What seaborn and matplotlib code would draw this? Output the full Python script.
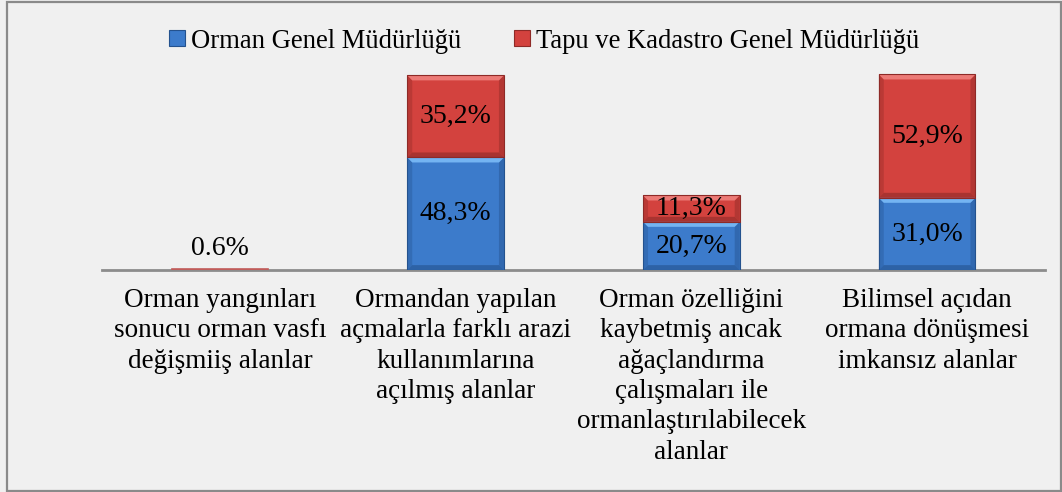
import matplotlib
matplotlib.use("Agg")
import matplotlib.pyplot as plt
import seaborn as sns
import pandas as pd
from matplotlib.patches import Polygon, Rectangle
from matplotlib.lines import Line2D

categories = [
    "Orman yangınları\nsonucu orman vasfı\ndeğişmiiş alanlar",
    "Ormandan yapılan\naçmalarla farklı arazi\nkullanımlarına\naçılmış alanlar",
    "Orman özelliğini\nkaybetmiş ancak\nağaçlandırma\nçalışmaları ile\normanlaştırılabilecek\nalanlar",
    "Bilimsel açıdan\normana dönüşmesi\nimkansız alanlar",
]
ogm_values = [0.0, 48.3, 20.7, 31.0]
tkgm_values = [0.6, 35.2, 11.3, 52.9]
ogm_labels = ["", "48,3%", "20,7%", "31,0%"]
tkgm_labels = ["0.6%", "35,2%", "11,3%", "52,9%"]
series_names = ["Orman Genel Müdürlüğü", "Tapu ve Kadastro Genel Müdürlüğü"]

BG = "#f0f0f0"
BLUE, BLUE_HI, BLUE_LO = "#3c7bcb", "#74b4f2", "#24528e"
RED, RED_HI, RED_LO = "#d3423e", "#ec7a76", "#8e2a27"

sns.set_theme(style="white")
plt.rcParams["font.family"] = ["Liberation Serif", "DejaVu Serif"]
plt.rcParams["text.color"] = "black"

df = pd.DataFrame({
    "category": categories,
    "ogm": ogm_values,
    "tkgm": tkgm_values,
})
df["total"] = df["ogm"] + df["tkgm"]

fig = plt.figure(figsize=(10.62, 4.92), dpi=100, facecolor=BG)
ax = fig.add_axes([0.096, 0.451, 0.888, 0.474])
ax.set_facecolor(BG)

# stacked bars: totals in red, lower segment in blue drawn over them
sns.barplot(data=df, x="category", y="total", color=RED, saturation=1,
            width=0.41, ax=ax, zorder=2, edgecolor="none")
sns.barplot(data=df, x="category", y="ogm", color=BLUE, saturation=1,
            width=0.41, ax=ax, zorder=3, edgecolor="none")

ax.set_ylim(0, 100)
ax.set_xlim(-0.5, len(categories) - 0.5)

# bevel shading on each segment
ppx = 943 / 4.0      # pixels per x unit
ppy = 233 / 100.0    # pixels per y unit
bw = 0.41
b = 5.0


def bevel(xc, y0, y1, base, hi, lo, z):
    x0, x1 = xc - bw / 2, xc + bw / 2
    if y1 - y0 < 3:
        ax.add_patch(Rectangle((x0, y0), bw, y1 - y0, facecolor="#c05c5a",
                               edgecolor="#c05c5a", linewidth=1.2, zorder=z))
        return
    dx, dy = b / ppx, b / ppy
    top = [(x0, y1), (x1, y1), (x1 - dx, y1 - dy), (x0 + dx, y1 - dy)]
    bot = [(x0, y0), (x1, y0), (x1 - dx, y0 + dy), (x0 + dx, y0 + dy)]
    left = [(x0, y0), (x0, y1), (x0 + dx, y1 - dy), (x0 + dx, y0 + dy)]
    right = [(x1, y0), (x1, y1), (x1 - dx, y1 - dy), (x1 - dx, y0 + dy)]
    ax.add_patch(Polygon(left, closed=True, facecolor=lo, edgecolor="none",
                         zorder=z, alpha=0.35))
    ax.add_patch(Polygon(right, closed=True, facecolor=lo, edgecolor="none",
                         zorder=z, alpha=0.45))
    ax.add_patch(Polygon(bot, closed=True, facecolor=lo, edgecolor="none",
                         zorder=z, alpha=0.6))
    ax.add_patch(Polygon(top, closed=True, facecolor=hi, edgecolor="none",
                         zorder=z))
    ax.add_patch(Rectangle((x0, y0), bw, y1 - y0, facecolor="none",
                           edgecolor=lo, linewidth=0.8, zorder=z + 0.1))


for i in range(len(categories)):
    o, t = ogm_values[i], tkgm_values[i]
    if o > 0:
        bevel(i, 0, o, BLUE, BLUE_HI, BLUE_LO, 4)
    if t > 0:
        bevel(i, o, o + t, RED, RED_HI, RED_LO, 4)

# value labels
for i in range(len(categories)):
    o, t = ogm_values[i], tkgm_values[i]
    if o > 0:
        ax.text(i, o / 2, ogm_labels[i], ha="center", va="center",
                fontsize=20, color="black", zorder=6)
        ax.text(i, o + t / 2, tkgm_labels[i], ha="center", va="center",
                fontsize=20, color="black", zorder=6)
    else:
        ax.text(i, o + t + 3.5, tkgm_labels[i], ha="center", va="bottom",
                fontsize=20, color="black", zorder=6)

ax.set_yticks([])
ax.set_xticks(range(len(categories)))
ax.set_xticklabels(categories, fontsize=19.5, linespacing=1.28, va="top",
                   color="black")
ax.tick_params(axis="x", length=0, pad=13)
ax.set_xlabel("")
ax.set_ylabel("")
for s in ["top", "right", "left"]:
    ax.spines[s].set_visible(False)
ax.spines["bottom"].set_color("#8c8c8c")
ax.spines["bottom"].set_linewidth(2.0)
ax.spines["bottom"].set_zorder(1)

handles = [
    Line2D([], [], marker="s", linestyle="none", markersize=11,
           markerfacecolor=BLUE, markeredgecolor=BLUE_LO, markeredgewidth=0.8),
    Line2D([], [], marker="s", linestyle="none", markersize=11,
           markerfacecolor=RED, markeredgecolor=RED_LO, markeredgewidth=0.8),
]
leg = fig.legend(handles, series_names, loc="center", bbox_to_anchor=(0.511, 0.916),
                 ncol=2, frameon=False, fontsize=19.2, handletextpad=0.1,
                 columnspacing=1.9, handlelength=0.8)
for txt in leg.get_texts():
    txt.set_color("black")

# outer frame
fig.patches.append(Rectangle((7 / 1062, 1 / 492), 1054 / 1062, 489 / 492,
                             transform=fig.transFigure, facecolor="none",
                             edgecolor="#8a8a8a", linewidth=1.6))

fig.savefig("out.png", dpi=100, facecolor=BG)
